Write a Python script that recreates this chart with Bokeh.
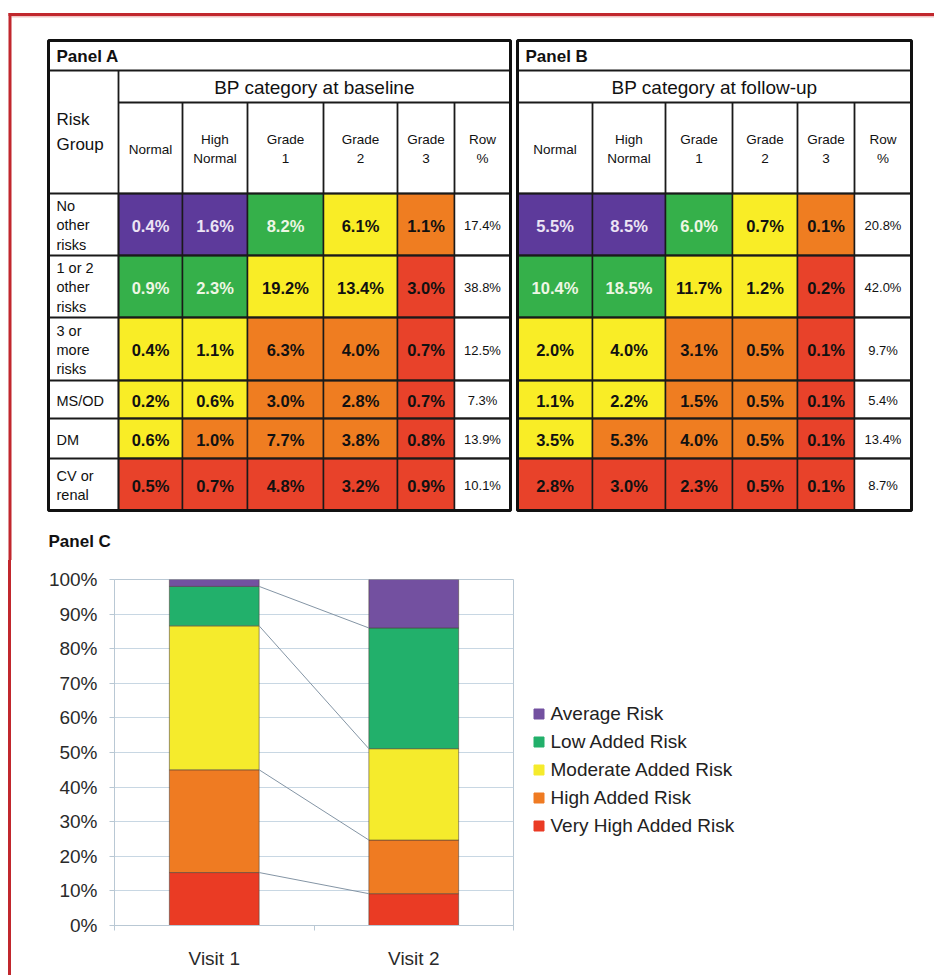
import numpy as np
from bokeh.plotting import figure
from bokeh.models import (Range1d, Legend, LegendItem, FixedTicker, PrintfTickFormatter,
                          Div, ColumnDataSource)
from bokeh.layouts import column, row
from bokeh.core.properties import value
from bokeh.embed import file_html
from bokeh.resources import INLINE

FONT = "Liberation Sans"

# ---------------- data ----------------
row_labels = ["No\nother\nrisks", "1 or 2\nother\nrisks", "3 or\nmore\nrisks", "MS/OD", "DM", "CV or\nrenal"]
col_labels = ["Normal", "High\nNormal", "Grade\n1", "Grade\n2", "Grade\n3", "Row\n%"]

baseline = [[0.4, 1.6, 8.2, 6.1, 1.1],
            [0.9, 2.3, 19.2, 13.4, 3.0],
            [0.4, 1.1, 6.3, 4.0, 0.7],
            [0.2, 0.6, 3.0, 2.8, 0.7],
            [0.6, 1.0, 7.7, 3.8, 0.8],
            [0.5, 0.7, 4.8, 3.2, 0.9]]
baseline_row_pct = [17.4, 38.8, 12.5, 7.3, 13.9, 10.1]

followup = [[5.5, 8.5, 6.0, 0.7, 0.1],
            [10.4, 18.5, 11.7, 1.2, 0.2],
            [2.0, 4.0, 3.1, 0.5, 0.1],
            [1.1, 2.2, 1.5, 0.5, 0.1],
            [3.5, 5.3, 4.0, 0.5, 0.1],
            [2.8, 3.0, 2.3, 0.5, 0.1]]
followup_row_pct = [20.8, 42.0, 9.7, 5.4, 13.4, 8.7]

# risk level index of each cell: 0 Average .. 4 Very High
risk_grid = [[0, 0, 1, 2, 3],
             [1, 1, 2, 2, 4],
             [2, 2, 3, 3, 4],
             [2, 2, 3, 3, 4],
             [2, 3, 3, 3, 4],
             [4, 4, 4, 4, 4]]

risk_levels = ["Average Risk", "Low Added Risk", "Moderate Added Risk",
               "High Added Risk", "Very High Added Risk"]
visits = ["Visit 1", "Visit 2"]
visit1_pct = [2.0, 11.4, 41.6, 29.7, 15.3]
visit2_pct = [14.0, 34.9, 26.4, 15.5, 9.2]

# ---------------- styles ----------------
table_colors = ["#5d3a9b", "#35b04a", "#f9ed26", "#ef7d21", "#e8422a"]
table_text = ["#ece4f4", "#eef6e4", "#111111", "#111111", "#111111"]
chart_colors = ["#7350a0", "#22b06b", "#f5eb2c", "#ef7b22", "#ea3b24"]
RED = "#c1272d"

A_x = [48, 118, 182, 247, 323, 397, 454, 510]
B_x = [517, 592, 665, 732, 797, 854, 911]
Y = [40, 70, 102, 193, 255, 317, 380, 418, 458, 510]

W = 934
H1 = 560
p = figure(width=W, height=H1, x_range=Range1d(0, W), y_range=Range1d(H1, 0),
           output_backend="svg", toolbar_location=None, min_border=0,
           x_axis_type=None, y_axis_type=None)
p.grid.visible = False
p.outline_line_color = None
p.background_fill_color = "white"
p.border_fill_color = "white"

# page frame (red)
p.quad(left=[8], right=[W], top=[12.5], bottom=[15.5], fill_color=RED, line_color=None)
p.quad(left=[11], right=[W], top=[15.5], bottom=[17], fill_color="#f1c4c4", line_color=None)
p.quad(left=[8], right=[11], top=[12.5], bottom=[H1], fill_color=RED, line_color=None)


def draw_panel(xs, label_col, title, header, vals, rowpct):
    x0, x1 = xs[0], xs[-1]
    dx = xs[1:] if label_col else xs
    p.quad(left=[x0], right=[x1], top=[Y[0]], bottom=[Y[-1]], fill_color="white", line_color=None)
    L, R, T, B, C, TX, TY, TT, TC = [], [], [], [], [], [], [], [], []
    for r in range(6):
        for c in range(5):
            L.append(dx[c]); R.append(dx[c + 1]); T.append(Y[3 + r]); B.append(Y[4 + r])
            C.append(table_colors[risk_grid[r][c]])
            TX.append((dx[c] + dx[c + 1]) / 2); TY.append((Y[3 + r] + Y[4 + r]) / 2)
            TT.append(f"{vals[r][c]:.1f}%"); TC.append(table_text[risk_grid[r][c]])
        L.append(dx[5]); R.append(dx[6]); T.append(Y[3 + r]); B.append(Y[4 + r]); C.append("white")
    p.quad(left=L, right=R, top=T, bottom=B, fill_color=C, line_color="#1a1a1a", line_width=1.5)
    # grid lines
    sx0, sy0, sx1, sy1 = [], [], [], []
    sx0 += [x0]; sy0 += [Y[1]]; sx1 += [x1]; sy1 += [Y[1]]
    sx0 += [dx[0]]; sy0 += [Y[2]]; sx1 += [x1]; sy1 += [Y[2]]
    for yy in Y[3:-1]:
        sx0.append(x0); sy0.append(yy); sx1.append(x1); sy1.append(yy)
    for e in dx[1:-1]:
        sx0.append(e); sy0.append(Y[2]); sx1.append(e); sy1.append(Y[3])
    if label_col:
        sx0.append(dx[0]); sy0.append(Y[1]); sx1.append(dx[0]); sy1.append(Y[-1])
    p.segment(x0=sx0, y0=sy0, x1=sx1, y1=sy1, line_color="#1a1a1a", line_width=1.8)
    p.quad(left=[x0], right=[x1], top=[Y[0]], bottom=[Y[-1]], fill_color=None,
           line_color="#111111", line_width=3)
    # texts
    p.text(x=[x0 + 8], y=[(Y[0] + Y[1]) / 2 + 1], text=[title], text_font=value(FONT),
           text_font_size="17px", text_font_style="bold", text_align="left",
           text_baseline="middle", text_color="#111111")
    p.text(x=[(dx[0] + x1) / 2], y=[(Y[1] + Y[2]) / 2 + 1], text=[header], text_font=value(FONT),
           text_font_size="19px", text_align="center", text_baseline="middle", text_color="#111111")
    p.text(x=[(dx[i] + dx[i + 1]) / 2 for i in range(6)], y=[(Y[2] + Y[3]) / 2 + 1] * 6,
           text=col_labels, text_font=value(FONT), text_font_size="13.5px", text_line_height=1.3,
           text_align="center", text_baseline="middle", text_color="#111111")
    p.text(x=TX, y=[t + 1 for t in TY], text=TT, text_font=value(FONT), text_font_size="16.5px",
           text_font_style="bold", text_align="center", text_baseline="middle", text_color=TC)
    p.text(x=[(dx[5] + dx[6]) / 2] * 6, y=[(Y[3 + r] + Y[4 + r]) / 2 + 1 for r in range(6)],
           text=[f"{v:.1f}%" for v in rowpct], text_font=value(FONT), text_font_size="13px",
           text_align="center", text_baseline="middle", text_color="#111111")
    if label_col:
        p.text(x=[x0 + 8], y=[(Y[1] + Y[3]) / 2], text=["Risk\nGroup"], text_font=value(FONT),
               text_font_size="17px", text_line_height=1.3, text_align="left",
               text_baseline="middle", text_color="#111111")
        p.text(x=[x0 + 8] * 6, y=[(Y[3 + r] + Y[4 + r]) / 2 + 1 for r in range(6)],
               text=row_labels, text_font=value(FONT), text_font_size="14.5px",
               text_line_height=1.2, text_align="left", text_baseline="middle",
               text_color="#111111")


draw_panel(A_x, True, "Panel A", "BP category at baseline", baseline, baseline_row_pct)
draw_panel(B_x, False, "Panel B", "BP category at follow-up", followup, followup_row_pct)

p.text(x=[48], y=[541], text=["Panel C"], text_font=value(FONT), text_font_size="17px",
       text_font_style="bold", text_align="left", text_baseline="middle", text_color="#111111")

# ---------------- Panel C chart ----------------
H2 = 415
X0 = 11
FL, FR, FT, FB = 114, 513, 579, 925
RB = 2
W2 = FR + RB - X0
c = figure(width=W2, height=H2, x_range=Range1d(0, 2), y_range=Range1d(0, 100),
           output_backend="svg", toolbar_location=None,
           min_border_left=FL - X0, min_border_right=RB, min_border_top=FT - H1,
           min_border_bottom=(H1 + H2) - FB)
c.background_fill_color = "white"
c.border_fill_color = "white"
c.outline_line_color = "#b9c8d4"

stack_order = risk_levels[::-1]
src = ColumnDataSource(dict(x=[0.5, 1.5],
                            **{lvl: [visit1_pct[i], visit2_pct[i]] for i, lvl in enumerate(risk_levels)}))
bar_w = 0.45
c.vbar_stack(stackers=stack_order, x="x", width=bar_w,
             fill_color=[chart_colors[risk_levels.index(l)] for l in stack_order],
             line_color="#4a4038", line_alpha=0.55, line_width=1, source=src)

v1 = np.array([visit1_pct[risk_levels.index(l)] for l in stack_order])
v2 = np.array([visit2_pct[risk_levels.index(l)] for l in stack_order])
cum1 = np.cumsum(v1)[:-1]
cum2 = np.cumsum(v2)[:-1]
c.segment(x0=[0.5 + bar_w / 2] * len(cum1), y0=list(cum1), x1=[1.5 - bar_w / 2] * len(cum2),
          y1=list(cum2), line_color="#8495a5", line_width=1)

c.yaxis.ticker = FixedTicker(ticks=list(range(0, 101, 10)))
c.yaxis.formatter = PrintfTickFormatter(format="%d%%")
c.yaxis.axis_line_color = "#b9c8d4"
c.yaxis.major_tick_line_color = "#b9c8d4"
c.yaxis.major_tick_out = 5
c.yaxis.major_tick_in = 0
c.yaxis.minor_tick_line_color = None
c.yaxis.major_label_standoff = 12
c.yaxis.major_label_text_font = FONT
c.yaxis.major_label_text_font_size = "19px"
c.yaxis.major_label_text_color = "#2a2a2a"

c.xaxis.ticker = FixedTicker(ticks=[0.5, 1.5], minor_ticks=[0, 1, 2])
c.xaxis.major_label_overrides = {0.5: visits[0], 1.5: visits[1]}
c.xaxis.axis_line_color = "#b9c8d4"
c.xaxis.major_tick_line_color = None
c.xaxis.major_tick_out = 0
c.xaxis.minor_tick_line_color = "#b9c8d4"
c.xaxis.minor_tick_out = 5
c.xaxis.minor_tick_in = 0
c.xaxis.major_label_standoff = 17
c.xaxis.major_label_text_font = FONT
c.xaxis.major_label_text_font_size = "19px"
c.xaxis.major_label_text_color = "#2a2a2a"

c.xgrid.visible = False
c.ygrid.grid_line_color = "#c8d7e3"

# ---------------- legend (separate element to the right of the chart) ----------------
LX0 = X0 + W2
lg = figure(width=W - LX0, height=H2, x_range=Range1d(0, 1), y_range=Range1d(0, 1),
            output_backend="svg", toolbar_location=None, min_border=0,
            x_axis_type=None, y_axis_type=None)
lg.grid.visible = False
lg.outline_line_color = None
lg.background_fill_color = "white"
lg.border_fill_color = "white"

items = []
for lvl, col in zip(risk_levels, chart_colors):
    r = lg.scatter(x=[np.nan], y=[np.nan], marker="square", size=10, fill_color=col,
                   line_color=col)
    items.append(LegendItem(label=lvl, renderers=[r]))
legend = Legend(items=items, location=(10.5, 87), glyph_width=25, glyph_height=25,
                label_height=25, spacing=3, padding=10, margin=0, label_standoff=0,
                border_line_color=None, background_fill_alpha=0,
                label_text_font=FONT, label_text_font_size="19px", label_text_color="#222222")
lg.add_layout(legend, "center")

spacer = Div(text="", width=8, height=H2, margin=0)
strip = Div(text="", width=3, height=H2, margin=0, styles={"background-color": RED})
layout = column(p, row(spacer, strip, c, lg, spacing=0), spacing=0)

open("out.html", "w").write(file_html(layout, INLINE))
